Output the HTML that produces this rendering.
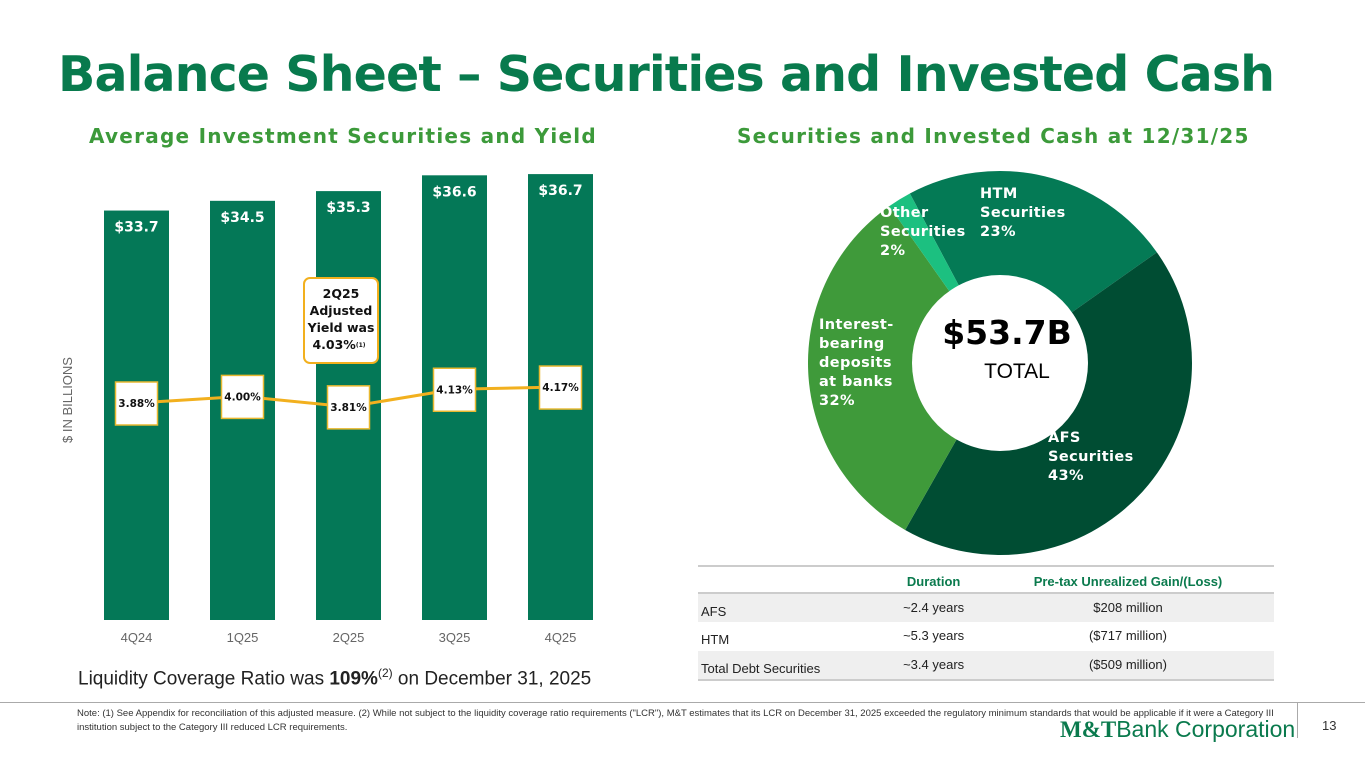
<!DOCTYPE html>
<html><head><meta charset="utf-8">
<style>
body{margin:0;width:1365px;height:768px;background:#fff;font-family:"Liberation Sans",sans-serif;position:relative;overflow:hidden}
.abs{position:absolute}
h1{position:absolute;left:58px;top:46px;margin:0;font-family:"DejaVu Sans",sans-serif;font-size:49px;font-weight:bold;color:#087a4d;letter-spacing:-0.9px;white-space:nowrap}
.sub{position:absolute;font-family:"DejaVu Sans",sans-serif;font-size:20px;font-weight:bold;color:#3c9a3a;letter-spacing:1.25px;white-space:nowrap}
table{border-collapse:collapse;font-size:13px;color:#222}
</style></head><body>
<h1>Balance Sheet – Securities and Invested Cash</h1>
<div class="sub" style="left:89px;top:124px">Average Investment Securities and Yield</div>
<div class="sub" style="left:737px;top:124px">Securities and Invested Cash at 12/31/25</div>

<svg class="abs" style="left:0;top:0" width="680" height="690" id="bars"></svg>
<svg class="abs" style="top:0;left:680px" width="685" height="560" id="donut"></svg>

<div class="abs" style="left:78px;top:666px;font-size:19px;color:#222">Liquidity Coverage Ratio was <b>109%</b><sup style="font-size:12px">(2)</sup> on December 31, 2025</div>

<div class="abs" style="left:698px;top:565px;width:576px;border-top:2px solid #ccc">
<table style="width:576px">
<tr style="height:26px;border-bottom:2px solid #ccc"><td></td><td style="color:#0a7a4d;font-weight:bold;text-align:center;padding-top:4px">Duration</td><td style="color:#0a7a4d;font-weight:bold;text-align:center;padding-top:4px">Pre-tax Unrealized Gain/(Loss)</td></tr>
<tr style="height:29px;background:#efefef"><td style="padding:6px 0 0 3px">AFS</td><td style="text-align:center;vertical-align:top;padding-top:6px">~2.4 years</td><td style="text-align:center;vertical-align:top;padding-top:6px">$208 million</td></tr>
<tr style="height:29px"><td style="padding:6px 0 0 3px">HTM</td><td style="text-align:center;vertical-align:top;padding-top:6px">~5.3 years</td><td style="text-align:center;vertical-align:top;padding-top:6px">($717 million)</td></tr>
<tr style="height:29px;background:#efefef;border-bottom:2px solid #ccc"><td style="padding:6px 0 0 3px">Total Debt Securities</td><td style="text-align:center;vertical-align:top;padding-top:6px">~3.4 years</td><td style="text-align:center;vertical-align:top;padding-top:6px">($509 million)</td></tr>
</table></div>

<div class="abs" style="left:0;top:702px;width:1365px;border-top:1px solid #aaa"></div>
<div class="abs" style="left:1297px;top:702px;height:36px;border-left:1px solid #aaa"></div>
<div class="abs" style="left:77px;top:707px;width:1200px;font-size:9.5px;line-height:14px;color:#333">Note: (1) See Appendix for reconciliation of this adjusted measure. (2) While not subject to the liquidity coverage ratio requirements ("LCR"), M&amp;T estimates that its LCR on December 31, 2025 exceeded the regulatory minimum standards that would be applicable if it were a Category III institution subject to the Category III reduced LCR requirements.</div>
<div class="abs" style="left:1060px;top:716px;font-size:23px;color:#0a7a4d;white-space:nowrap"><span style="font-family:'Liberation Serif',serif;font-weight:bold">M&amp;T</span><span style="font-weight:300">Bank Corporation</span></div>
<div class="abs" style="left:1322px;top:718px;font-size:13px;color:#333">13</div>

<script>
const categories=["4Q24","1Q25","2Q25","3Q25","4Q25"];
const balances=[33.7,34.5,35.3,36.6,36.7];
const balanceLabels=["$33.7","$34.5","$35.3","$36.6","$36.7"];
const yields=[3.88,4.00,3.81,4.13,4.17];
const yieldLabels=["3.88%","4.00%","3.81%","4.13%","4.17%"];
const slices=[23,43,32,2];
const sliceNames=["HTM","AFS","Interest-bearing","Other"];

const NS="http://www.w3.org/2000/svg";
const BOLDF='"DejaVu Sans",sans-serif';
function mk(p,t,a){const e=document.createElementNS(NS,t);for(const k in a)e.setAttribute(k,a[k]);p.appendChild(e);return e;}
const B=document.getElementById('bars');
const base=620, ppu=12.15, x0=104, step=106, bw=65;
const xc=i=>x0+i*step+bw/2;
const yb=v=>base-v*ppu;
const yy=v=>403-(v-3.88)*55;
balances.forEach((v,i)=>{
  const r=mk(B,'rect',{x:x0+i*step,y:yb(v),width:bw,height:base-yb(v),fill:'#047857'});
  
  
  const t=mk(B,'text',{x:xc(i),y:yb(v)+21,'text-anchor':'middle','font-size':14,'font-weight':'bold','font-family':BOLDF,fill:'#fff'});t.textContent=balanceLabels[i];
  
  
  const c=mk(B,'text',{x:xc(i),y:642,'text-anchor':'middle','font-size':13,fill:'#666'});c.textContent=categories[i];
  
  
});
const yt=mk(B,'text',{x:72,y:400,transform:'rotate(-90 72 400)','text-anchor':'middle','font-size':13,fill:'#666'});yt.textContent='$ IN BILLIONS';


const pts=yields.map((v,i)=>xc(i)+','+yy(v)).join(' ');
const pl=mk(B,'polyline',{points:pts,fill:'none',stroke:'#f2b01e','stroke-width':3});


yields.forEach((v,i)=>{
  const g=mk(B,'g',{});
  
  
  mk(g,'rect',{x:xc(i)-21,y:yy(v)-21,width:42,height:43,fill:'#fff',stroke:'#e8b830','stroke-width':1.5});
  const t=mk(g,'text',{x:xc(i),y:yy(v)+4,'text-anchor':'middle','font-size':10.5,'font-weight':'bold','font-family':BOLDF,fill:'#111'});t.textContent=yieldLabels[i];
});
const cg=mk(B,'g',{});


mk(cg,'rect',{x:304,y:278,width:74,height:85,rx:6,fill:'#fff',stroke:'#f2b01e','stroke-width':2});
["2Q25","Adjusted","Yield was"].forEach((s,k)=>{const t=mk(cg,'text',{x:341,y:298+k*17,'text-anchor':'middle','font-size':12.5,'font-weight':'bold','font-family':BOLDF,fill:'#111'});t.textContent=s;});
const t4=mk(cg,'text',{x:339,y:349,'text-anchor':'middle','font-size':12.5,'font-weight':'bold','font-family':BOLDF,fill:'#111'});t4.innerHTML='4.03%<tspan font-size="6" dy="-2">(1)</tspan>';

const D=document.getElementById('donut');
const cx=320,cy=363,R=192,r0=88;
const cols=['#047a55','#004d33','#3f9a3a','#1cc080'];
let a=-28;
const tot=slices.reduce((s,v)=>s+v,0);
function pt(deg,rad){const t=deg*Math.PI/180;return [cx+rad*Math.sin(t),cy-rad*Math.cos(t)];}
slices.forEach((v,i)=>{
  const sw=v/tot*360,a1=a+sw;const p0=pt(a,R),p1=pt(a1,R);
  const p=mk(D,'path',{d:`M${cx},${cy}L${p0[0]},${p0[1]}A${R},${R} 0 ${sw>180?1:0} 1 ${p1[0]},${p1[1]}Z`,fill:cols[i]});
  
  
  a=a1;
});
mk(D,'circle',{cx:cx,cy:cy,r:r0,fill:'#fff'});
function lines(arr,x,y,sz){arr.forEach((s,k)=>{const t=mk(D,'text',{x:x,y:y+k*19,'font-size':sz,'font-weight':'bold','font-family':BOLDF,'letter-spacing':0.4,fill:'#fff'});t.textContent=s;});}
lines(["HTM","Securities","23%"],300,198,14.5);
lines(["Other","Securities","2%"],200,217,14.5);
lines(["Interest-","bearing","deposits","at banks","32%"],139,329,14.5);
lines(["AFS","Securities","43%"],368,442,14.5);
const tb=mk(D,'text',{x:327,y:344,'text-anchor':'middle','font-size':33,'font-weight':'bold','font-family':BOLDF,fill:'#000'});tb.textContent='$53.7B';


const tt=mk(D,'text',{x:337,y:378,'text-anchor':'middle','font-size':21,fill:'#000'});tt.textContent='TOTAL';
</script>
</body></html>
